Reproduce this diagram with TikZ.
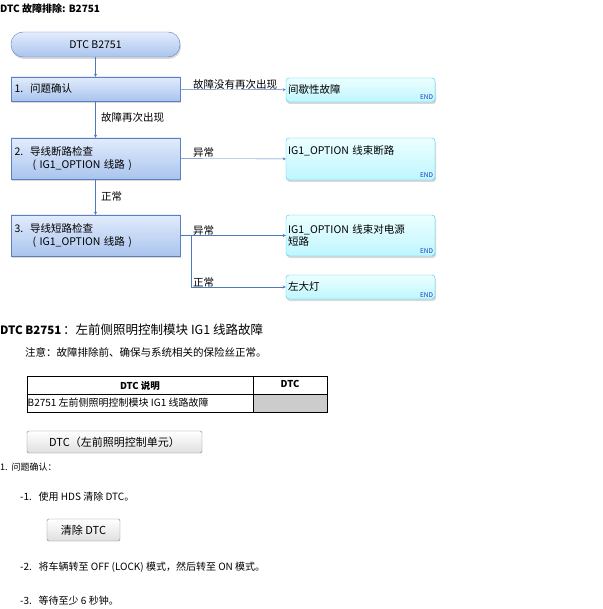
\documentclass[tikz,border=0pt]{standalone}
\usepackage{fontspec}
\setmainfont{Noto Sans CJK SC}
\usetikzlibrary{positioning,shadows,calc}
\definecolor{stepblue}{RGB}{91,127,192}
\definecolor{steptop}{RGB}{226,236,252}
\definecolor{stepbot}{RGB}{170,196,238}
\definecolor{endcyan}{RGB}{51,204,238}
\definecolor{endtop}{RGB}{236,255,255}
\definecolor{endbot}{RGB}{190,246,255}
\definecolor{endblue}{RGB}{30,60,200}
\definecolor{arrowblue}{RGB}{80,120,190}
\definecolor{cellgray}{RGB}{204,204,204}
\begin{document}
\begin{tikzpicture}[x=1pt, y=-1pt,
    font=\fontsize{10.5}{12.5}\selectfont,
    startbox/.style={rounded corners=12pt, draw=stepblue, top color=steptop, bottom color=stepbot, drop shadow={opacity=0.3, shadow xshift=1pt, shadow yshift=-2pt}, minimum width=169pt, minimum height=25pt},
    stepbox/.style={draw=stepblue, top color=steptop, bottom color=stepbot, drop shadow={opacity=0.3, shadow xshift=1pt, shadow yshift=-2pt}, minimum width=169pt, text width=162pt, inner xsep=3pt, align=left},
    endbox/.style={rounded corners=3pt, draw=endcyan, top color=endtop, bottom color=endbot, drop shadow={opacity=0.3, shadow xshift=1pt, shadow yshift=-2pt}, minimum width=149pt, text width=145pt, inner xsep=2pt, align=left},
    endtag/.style={font=\fontsize{6.5}{7}\selectfont, text=endblue, inner sep=2pt},
    arrow/.style={->, arrowblue, >=stealth},
    lbl/.style={inner sep=1pt, anchor=south west, text=black},
    btn/.style={draw=gray, rounded corners=1.5pt, top color=white, bottom color=gray!25, font=\fontsize{11}{13}\selectfont}
]
\useasboundingbox (0,0) rectangle (602,609);

% Title
\node[anchor=west, inner sep=0pt, font=\bfseries\fontsize{10}{12}\selectfont] (title) at (0,9) {DTC 故障排除: B2751};

% Flow
\node[startbox] (start) at (95.5,44.5) {DTC B2751};
\node[stepbox, minimum height=24pt] (s1) at (95.5,89) {1.\ \ 问题确认};
\node[stepbox, minimum height=41pt] (s2) at (95.5,158.5) {2.\ \ 导线断路检查\\\hspace*{18pt}( IG1\_OPTION 线路 )};
\node[stepbox, minimum height=41pt] (s3) at (95.5,235.5) {3.\ \ 导线短路检查\\\hspace*{18pt}( IG1\_OPTION 线路 )};

\node[endbox, minimum height=24pt] (e1) at (360.5,90) {间歇性故障};
\node[endbox, minimum height=42pt, text depth=17pt] (e2) at (360.5,159) {IG1\_OPTION 线束断路};
\node[endbox, minimum height=41pt] (e3) at (360.5,235.5) {IG1\_OPTION 线束对电源\\短路};
\node[endbox, minimum height=24pt] (e4) at (360.5,287) {左大灯};
\foreach \e in {e1,e2,e3,e4}
  \node[endtag, anchor=south east] at (\e.south east) {END};

% Connectors
\draw[arrow] (start) -- (s1);
\draw[arrow] (s1) -- node[right, pos=0.45, xshift=2pt, text=black] {故障再次出现} (s2);
\draw[arrow] (s2) -- node[right, xshift=2pt, text=black] {正常} (s3);
\draw[arrow] (s1) -- (e1);
\draw[arrow] (s2) -- (e2);
\draw[arrow] (s3) -- (e3);
\coordinate (split) at ($(s3.east)+(11,0)$);
\draw[arrow] (split) |- (e4);
\node[lbl, align=left, text width=86pt, font=\fontsize{10.5}{9}\selectfont] at (192,91) {故障没有再次出现};
\node[lbl] at (192,159) {异常};
\node[lbl] at (192,237) {异常};
\node[lbl] at (192,289) {正常};

% Description
\node[anchor=base west, inner sep=0pt] (head) at (0,334) {{\bfseries\fontsize{11.5}{13}\selectfont DTC B2751}\,{\fontsize{12.5}{14}\selectfont ：左前侧照明控制模块 IG1 线路故障}};
\node[anchor=west, inner sep=0pt, font=\fontsize{10.5}{12}\selectfont] (note) at (25,352) {注意：故障排除前、确保与系统相关的保险丝正常。};

% Table
\fill[cellgray] (253,394) rectangle (327,412);
\draw (27,376) rectangle (327,412);
\draw (27,394) -- (327,394);
\draw (253,376) -- (253,412);
\node[font=\bfseries\fontsize{9.5}{11}\selectfont] (th1) at (140,386) {DTC 说明};
\node[font=\bfseries\fontsize{9.5}{11}\selectfont] (th2) at (290,384) {DTC};
\node[anchor=west, inner sep=0.5pt, font=\fontsize{10}{12}\selectfont] (td1) at (27,403) {B2751 左前侧照明控制模块 IG1 线路故障};

% Steps
\node[btn, minimum width=175pt, minimum height=22pt] (dtcbtn) at (114.5,442) {DTC（左前照明控制单元）};
\node[anchor=west, inner sep=0pt, font=\fontsize{9}{11}\selectfont] (q1) at (0,467) {1.\ \ 问题确认：};
\node[anchor=west, inner sep=0pt, font=\fontsize{10}{12}\selectfont] (q11) at (20,497) {-1.\ \ \ 使用 HDS 清除 DTC。};
\node[btn, minimum width=73pt, minimum height=22pt] (clrbtn) at (83.5,530) {清除 DTC};
\node[anchor=west, inner sep=0pt, font=\fontsize{10}{12}\selectfont] (q12) at (20,567) {-2.\ \ \ 将车辆转至 OFF (LOCK) 模式，然后转至 ON 模式。};
\node[anchor=west, inner sep=0pt, font=\fontsize{10}{12}\selectfont] (q13) at (20,601) {-3.\ \ \ 等待至少 6 秒钟。};
\end{tikzpicture}
\end{document}
